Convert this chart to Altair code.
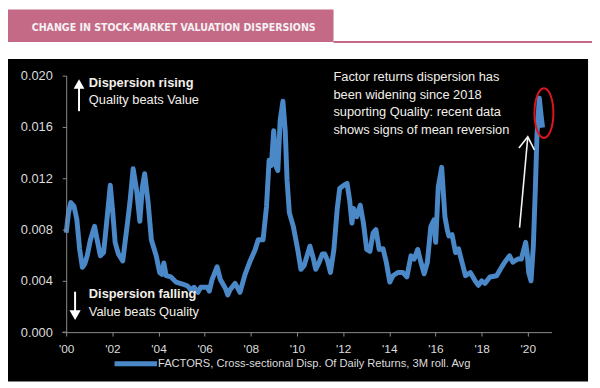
import altair as alt
import pandas as pd

# ---------------- data ----------------
years = [2000.00, 2000.10, 2000.20, 2000.34, 2000.46, 2000.58, 2000.70, 2000.80, 2000.91,
         2001.05, 2001.23, 2001.34, 2001.48, 2001.62, 2001.75, 2001.91, 2002.02, 2002.12,
         2002.26, 2002.45, 2002.62, 2002.76, 2002.90, 2003.05, 2003.19, 2003.30, 2003.40,
         2003.55, 2003.69, 2003.90, 2004.05, 2004.15, 2004.23, 2004.33, 2004.54, 2004.76,
         2005.04, 2005.26, 2005.40, 2005.54, 2005.70, 2005.83, 2006.11, 2006.20, 2006.32,
         2006.54, 2006.68, 2006.90, 2007.00, 2007.10, 2007.32, 2007.53, 2007.75, 2007.96,
         2008.18, 2008.32, 2008.53, 2008.68, 2008.79, 2008.89, 2008.99, 2009.10, 2009.17,
         2009.27, 2009.39, 2009.49, 2009.57, 2009.67, 2009.84, 2010.03, 2010.17, 2010.31,
         2010.56, 2010.70, 2010.81, 2010.95, 2011.10, 2011.20, 2011.32, 2011.45, 2011.60,
         2011.74, 2011.85, 2012.02, 2012.17, 2012.28, 2012.38, 2012.45, 2012.59, 2012.74,
         2012.88, 2013.02, 2013.16, 2013.30, 2013.42, 2013.56, 2013.73, 2013.87, 2014.02,
         2014.16, 2014.37, 2014.59, 2014.76, 2014.94, 2015.08, 2015.23, 2015.37, 2015.51,
         2015.65, 2015.80, 2015.94, 2016.01, 2016.12, 2016.27, 2016.41, 2016.51, 2016.58,
         2016.72, 2016.87, 2017.00, 2017.15, 2017.30, 2017.51, 2017.72, 2017.86, 2018.00,
         2018.14, 2018.36, 2018.65, 2018.86, 2019.00, 2019.21, 2019.35, 2019.57, 2019.72,
         2019.91, 2019.98, 2020.04, 2020.14, 2020.24, 2020.33, 2020.40, 2020.50, 2020.57,
         2020.64]
dispersion = [0.00775, 0.0093, 0.0101, 0.0098, 0.0088, 0.0065, 0.00505, 0.0053, 0.00595,
              0.0072, 0.00825, 0.0072, 0.00595, 0.0062, 0.0085, 0.01145, 0.0093, 0.0070,
              0.0061, 0.00555, 0.0080, 0.0101, 0.01275, 0.0111, 0.00865, 0.0113, 0.01235,
              0.0101, 0.0072, 0.00595, 0.00465, 0.0045, 0.0054, 0.0044, 0.0043, 0.0039,
              0.00375, 0.0036, 0.0033, 0.0035, 0.0031, 0.0035, 0.0035, 0.0032, 0.0041,
              0.0051, 0.0041, 0.0034, 0.0029, 0.0033, 0.0038, 0.0031, 0.0045, 0.0055,
              0.0064, 0.0072, 0.0072, 0.0098, 0.0134, 0.0130, 0.0157, 0.0129, 0.0126,
              0.0165, 0.0180, 0.0157, 0.01185, 0.0093, 0.00825, 0.00645, 0.0049, 0.0052,
              0.0067, 0.0058, 0.0049, 0.0054, 0.0061, 0.0061, 0.0056, 0.00465, 0.00645,
              0.00955, 0.0112, 0.01145, 0.0116, 0.0103, 0.0085, 0.00965, 0.0090, 0.0099,
              0.0085, 0.00645, 0.0063, 0.00775, 0.0080, 0.00645, 0.0065, 0.00545, 0.0039,
              0.0044, 0.00465, 0.00465, 0.0043, 0.00595, 0.0057, 0.00645, 0.00545, 0.00455,
              0.00545, 0.00825, 0.00875, 0.0070, 0.0113, 0.01285, 0.0090, 0.0080, 0.0075,
              0.0076, 0.0062, 0.0065, 0.00545, 0.0044, 0.00465, 0.0040, 0.00365, 0.0040,
              0.0038, 0.0043, 0.0044, 0.00505, 0.00545, 0.00595, 0.00545, 0.0057, 0.0057,
              0.0070, 0.0060, 0.00465, 0.0040, 0.0067, 0.0113, 0.01545, 0.01825, 0.0170,
              0.01595]
series_name = "FACTORS, Cross-sectional Disp. Of Daily Returns, 3M roll. Avg"
header_title = "CHANGE IN STOCK-MARKET VALUATION DISPERSIONS"
x_tick_values = [2000, 2002, 2004, 2006, 2008, 2010, 2012, 2014, 2016, 2018, 2020]
y_tick_values = [0.0, 0.004, 0.008, 0.012, 0.016, 0.020]

note_lines = ["Factor returns dispersion has", "been widening since 2018",
              "suporting Quality: recent data", "shows signs of mean reversion"]
note_y = [0.01987, 0.01851, 0.01715, 0.01577]
bold_labels = ["Dispersion rising", "Dispersion falling"]
bold_y = [0.01945, 0.00295]
plain_labels = ["Quality beats Value", "Value beats Quality"]
plain_y = [0.01808, 0.00159]

# ---------------- layout helpers ----------------
W, H = 492, 260           # plot area
X0, Y0 = 67, 74           # page position of plot origin
def px(v):
    return v - X0
def py(v):
    return v - Y0

FONT = "Liberation Sans, Arial, sans-serif"
NARROW = "DejaVu Sans Condensed, DejaVu Sans, sans-serif"
LINE_BLUE = "#4a88c8"
TXT = "#f2efe9"
AXIS_GREY = "#8c8c8c"

xs = alt.Scale(domain=[2000, 2021.03], nice=False, zero=False)
ys = alt.Scale(domain=[0, 0.02], nice=False, zero=True)

one = pd.DataFrame({"k": [0]})
df = pd.DataFrame({"year": years, "value": dispersion, "series": series_name})

# background black panel
bg = alt.Chart(one).mark_rect(color="#000000").encode(
    x=alt.value(px(6)), x2=alt.value(px(596)), y=alt.value(py(57)), y2=alt.value(py(384)))

# header band
band = alt.Chart(one).mark_rect(color="#c46a86").encode(
    x=alt.value(px(6)), x2=alt.value(px(338)), y=alt.value(py(7)), y2=alt.value(py(40)))
band_line = alt.Chart(one).mark_rule(color="#c46a86", strokeWidth=2).encode(
    x=alt.value(px(338)), x2=alt.value(px(600)), y=alt.value(py(40)))
band_text = alt.Chart(one).mark_text(
    align="left", baseline="alphabetic", font=NARROW, fontSize=10.7, fontWeight="bold",
    color="#f7f1f4").encode(x=alt.value(px(32)), y=alt.value(py(28.5)),
                            text=alt.value(header_title))

axis_x = alt.Axis(values=x_tick_values, labelExpr="\"'\" + substring(toString(datum.value), 2)",
                  title="", grid=False, domainColor=AXIS_GREY, tickColor=AXIS_GREY,
                  tickSize=4, labelColor="#dcdcdc", labelFont=FONT, labelFontSize=12,
                  labelPadding=8, labelFlush=False, zindex=1)
axis_y = alt.Axis(values=y_tick_values, format=".3f", title="", grid=False,
                  domainColor=AXIS_GREY, tickColor=AXIS_GREY, tickSize=4,
                  labelColor="#dcdcdc", labelFont=FONT, labelFontSize=13,
                  labelPadding=10, labelFlush=False, zindex=1)

# small stub of the x axis line left of the y axis (as in the original)
x_stub = alt.Chart(one).mark_rule(color=AXIS_GREY, strokeWidth=1).encode(
    x=alt.value(-4), x2=alt.value(0), y=alt.value(H))

line = alt.Chart(df).mark_line(color=LINE_BLUE, strokeWidth=5, strokeJoin="round").encode(
    x=alt.X("year:Q", scale=xs, axis=axis_x),
    y=alt.Y("value:Q", scale=ys, axis=axis_y),
)

# legend (drawn by hand below the axis)
leg_line = alt.Chart(one).mark_rule(color=LINE_BLUE, strokeWidth=5).encode(
    x=alt.value(px(116)), x2=alt.value(px(159)), y=alt.value(py(366)))
leg_text = alt.Chart(one).mark_text(
    align="left", baseline="middle", font=FONT, fontSize=11.3, color="#dcdcdc").encode(
    x=alt.value(px(160)), y=alt.value(py(366)), text=alt.value(series_name))

# left annotations
bold_df = pd.DataFrame({"x": [2000.98, 2000.98], "y": bold_y, "t": bold_labels})
plain_df = pd.DataFrame({"x": [2000.98, 2000.98], "y": plain_y, "t": plain_labels})
bold_txt = alt.Chart(bold_df).mark_text(
    align="left", baseline="middle", font=FONT, fontSize=13, fontWeight="bold", color=TXT
).encode(x=alt.X("x:Q", scale=xs), y=alt.Y("y:Q", scale=ys), text="t:N")
plain_txt = alt.Chart(plain_df).mark_text(
    align="left", baseline="middle", font=FONT, fontSize=13, color=TXT
).encode(x=alt.X("x:Q", scale=xs), y=alt.Y("y:Q", scale=ys), text="t:N")

shaft_df = pd.DataFrame({"x": [2000.556, 2000.385], "y": [0.01723, 0.003154],
                         "y2": [0.01915, 0.00165]})
shafts = alt.Chart(shaft_df).mark_rule(color="#ffffff", strokeWidth=2).encode(
    x=alt.X("x:Q", scale=xs), y=alt.Y("y:Q", scale=ys), y2="y2:Q")
head_up = alt.Chart(pd.DataFrame({"x": [2000.556], "y": [0.01935]})).mark_point(
    shape="triangle-up", size=120, filled=True, color="#ffffff", opacity=1).encode(
    x=alt.X("x:Q", scale=xs), y=alt.Y("y:Q", scale=ys))
head_down = alt.Chart(pd.DataFrame({"x": [2000.385], "y": [0.00133]})).mark_point(
    shape="triangle-down", size=130, filled=True, color="#ffffff", opacity=1).encode(
    x=alt.X("x:Q", scale=xs), y=alt.Y("y:Q", scale=ys))

# right annotation
note_df = pd.DataFrame({"x": [2011.58] * 4, "y": note_y, "t": note_lines})
note_txt = alt.Chart(note_df).mark_text(
    align="left", baseline="middle", font=FONT, fontSize=13, color=TXT
).encode(x=alt.X("x:Q", scale=xs), y=alt.Y("y:Q", scale=ys), text="t:N")

arrow_shaft = alt.Chart(pd.DataFrame({"x": [2019.645], "y": [0.00815],
                                      "x2": [2020.0], "y2": [0.01523]})).mark_rule(
    color="#f4f4f4", strokeWidth=1.6).encode(
    x=alt.X("x:Q", scale=xs), y=alt.Y("y:Q", scale=ys), x2="x2:Q", y2="y2:Q")
arrow_head = alt.Chart(pd.DataFrame({"x": [2019.615, 2020.0, 2020.286],
                                     "y": [0.01436, 0.01523, 0.01421],
                                     "o": [0, 1, 2]})).mark_line(
    color="#f4f4f4", strokeWidth=1.6).encode(
    x=alt.X("x:Q", scale=xs), y=alt.Y("y:Q", scale=ys), order="o:Q")

ellipse_path = "M -0.38 0 A 0.38 1 0 1 0 0.38 0 A 0.38 1 0 1 0 -0.38 0 Z"
ellipse = alt.Chart(pd.DataFrame({"x": [2020.7], "y": [0.01708]})).mark_point(
    shape=ellipse_path, size=2550, filled=False, color="#e0141b", strokeWidth=2,
    opacity=1).encode(x=alt.X("x:Q", scale=xs), y=alt.Y("y:Q", scale=ys))

chart = alt.layer(
    bg, band, band_line, band_text, x_stub, line, leg_line, leg_text,
    bold_txt, plain_txt, shafts, head_up, head_down,
    note_txt, arrow_shaft, arrow_head, ellipse,
).properties(
    width=W, height=H,
    autosize=alt.AutoSizeParams(type="none"),
    padding={"left": X0 - 8, "top": Y0 - 8, "right": 592 - (X0 - 8) - W,
             "bottom": 376 - (Y0 - 8) - H},
    background="#ffffff",
).configure_view(stroke=None)

chart.save("out.html", embed_options={"renderer": "svg", "actions": False})
